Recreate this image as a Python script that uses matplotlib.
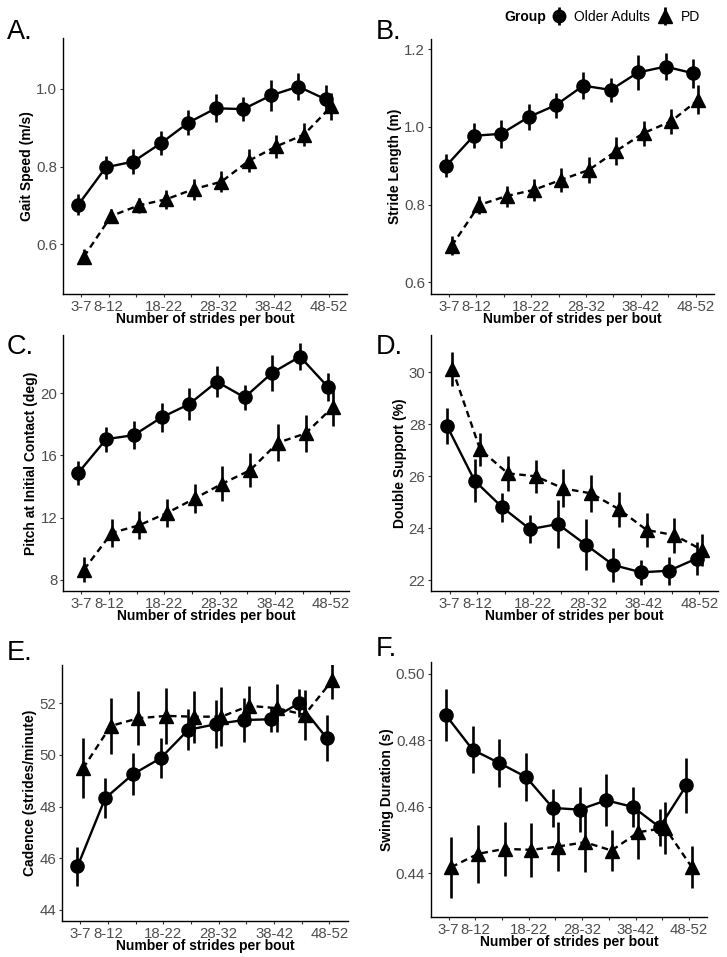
import numpy as np
import matplotlib
matplotlib.use("Agg")
import matplotlib.pyplot as plt
from matplotlib.lines import Line2D
from matplotlib.legend_handler import HandlerTuple

plt.rcParams['font.family'] = ['Liberation Sans', 'DejaVu Sans']

# bout length categories
bouts = ["3-7", "8-12", "13-17", "18-22", "23-27", "28-32", "33-37", "38-42", "43-47", "48-52"]
shown = ["3-7", "8-12", "18-22", "28-32", "38-42", "48-52"]

# A. gait speed
speed_oa = [0.702, 0.798, 0.813, 0.860, 0.913, 0.950, 0.948, 0.983, 1.006, 0.973]
speed_oa_err = [0.027, 0.030, 0.032, 0.031, 0.032, 0.036, 0.030, 0.040, 0.034, 0.036]
speed_pd = [0.568, 0.673, 0.700, 0.716, 0.742, 0.761, 0.815, 0.852, 0.882, 0.955]
speed_pd_err = [0.020, 0.017, 0.020, 0.025, 0.027, 0.027, 0.029, 0.029, 0.029, 0.034]

# B. stride length
stride_oa = [0.900, 0.977, 0.982, 1.025, 1.056, 1.106, 1.095, 1.140, 1.155, 1.138]
stride_oa_err = [0.029, 0.032, 0.036, 0.033, 0.032, 0.034, 0.030, 0.044, 0.035, 0.037]
stride_pd = [0.694, 0.799, 0.822, 0.838, 0.864, 0.889, 0.938, 0.984, 1.014, 1.070]
stride_pd_err = [0.024, 0.024, 0.027, 0.029, 0.031, 0.033, 0.036, 0.032, 0.033, 0.038]

# C. pitch at initial contact
pitch_oa = [14.90, 17.05, 17.31, 18.45, 19.31, 20.75, 19.74, 21.33, 22.37, 20.43]
pitch_oa_err = [0.77, 0.80, 0.88, 0.96, 1.03, 0.99, 0.81, 1.17, 0.88, 0.91]
pitch_pd = [8.65, 11.01, 11.51, 12.30, 13.23, 14.19, 15.05, 16.82, 17.42, 19.14]
pitch_pd_err = [0.80, 0.90, 0.90, 0.90, 0.95, 1.10, 1.10, 1.18, 1.18, 1.27]

# D. double support
ds_oa = [27.95, 25.83, 24.80, 23.96, 24.16, 23.37, 22.58, 22.30, 22.36, 22.83]
ds_oa_err = [0.69, 0.82, 0.56, 0.55, 0.91, 0.98, 0.65, 0.48, 0.53, 0.62]
ds_pd = [30.13, 27.03, 26.11, 26.00, 25.53, 25.34, 24.73, 23.93, 23.73, 23.16]
ds_pd_err = [0.67, 0.63, 0.66, 0.63, 0.73, 0.70, 0.67, 0.67, 0.67, 0.63]

# E. cadence
cad_oa = [45.68, 48.32, 49.25, 49.87, 50.97, 51.19, 51.35, 51.38, 52.00, 50.65]
cad_oa_err = [0.76, 0.77, 0.82, 0.77, 0.79, 0.94, 0.84, 0.49, 0.54, 0.89]
cad_pd = [49.48, 51.12, 51.42, 51.51, 51.48, 51.48, 51.90, 51.81, 51.55, 52.88]
cad_pd_err = [1.16, 1.10, 1.05, 1.08, 1.01, 1.14, 0.75, 0.92, 0.98, 0.70]

# F. swing duration
swing_oa = [0.4875, 0.4771, 0.4731, 0.4689, 0.4596, 0.4591, 0.4619, 0.4599, 0.4538, 0.4664]
swing_oa_err = [0.0078, 0.0070, 0.0071, 0.0073, 0.0058, 0.0068, 0.0078, 0.0060, 0.0056, 0.0082]
swing_pd = [0.4418, 0.4458, 0.4473, 0.4470, 0.4480, 0.4493, 0.4468, 0.4523, 0.4536, 0.4418]
swing_pd_err = [0.0092, 0.0087, 0.0082, 0.0081, 0.0075, 0.0089, 0.0063, 0.0082, 0.0078, 0.0064]

W, H = 727, 957
fig = plt.figure(figsize=(W / 100, H / 100), dpi=100)

def px_axes(left, right, top, bottom):
    return fig.add_axes([left / W, 1 - bottom / H, (right - left) / W, (bottom - top) / H])

# tag, tag position (px), axes box (px), data, y label, y range, y ticks
panels = [
    ("A.", (7, 32), (62.7, 347, 38, 294), speed_oa, speed_oa_err, speed_pd, speed_pd_err,
     "Gait Speed (m/s)", (0.472, 1.131), [0.6, 0.8, 1.0], "{:.1f}"),
    ("B.", (376, 32), (430.7, 714, 39, 294), stride_oa, stride_oa_err, stride_pd, stride_pd_err,
     "Stride Length (m)", (0.570, 1.226), [0.6, 0.8, 1.0, 1.2], "{:.1f}"),
    ("C.", (7, 347), (62.7, 349, 335, 591), pitch_oa, pitch_oa_err, pitch_pd, pitch_pd_err,
     "Pitch at Initial Contact (deg)", (7.27, 23.76), [8, 12, 16, 20], "{:.0f}"),
    ("D.", (376, 347), (431, 718, 335, 591), ds_oa, ds_oa_err, ds_pd, ds_pd_err,
     "Double Support (%)", (21.58, 31.44), [22, 24, 26, 28, 30], "{:.0f}"),
    ("E.", (7, 653), (61.7, 348, 665, 921), cad_oa, cad_oa_err, cad_pd, cad_pd_err,
     "Cadence (strides/minute)", (43.57, 53.48), [44, 46, 48, 50, 52], "{:.0f}"),
    ("F.", (376, 649), (430.7, 707, 662, 917), swing_oa, swing_oa_err, swing_pd, swing_pd_err,
     "Swing Duration (s)", (0.4268, 0.5035), [0.44, 0.46, 0.48, 0.50], "{:.2f}"),
]

x = np.arange(1, len(bouts) + 1)
dodge = 0.1

for tag, tpos, box, oa, oa_err, pd_, pd_err, ylab, ylim, yticks, fmt in panels:
    ax = px_axes(*box)
    ax.errorbar(x - dodge, oa, yerr=oa_err, fmt="none", ecolor="black", elinewidth=1.9, capsize=0)
    ax.errorbar(x + dodge, pd_, yerr=pd_err, fmt="none", ecolor="black", elinewidth=1.9, capsize=0)
    ax.plot(x - dodge, oa, color="black", lw=1.7, marker="o", ms=9.5)
    ax.plot(x + dodge, pd_, color="black", lw=1.7, ls=(0, (2.8, 1.9)), marker="^", ms=9.8)

    ax.set_xlim(0.33, 10.67)
    ax.set_ylim(*ylim)
    ax.set_xticks(x)
    ax.set_xticklabels([b if b in shown else "" for b in bouts])
    ax.set_yticks(yticks)
    ax.set_yticklabels([fmt.format(v) for v in yticks])
    ax.tick_params(axis="both", colors="#333333", labelcolor="#4D4D4D", labelsize=10.8,
                   length=2.5, width=0.8, pad=1.5)
    for s in ("top", "right"):
        ax.spines[s].set_visible(False)
    for s in ("left", "bottom"):
        ax.spines[s].set_linewidth(1.0)
    ax.set_xlabel("Number of strides per bout", fontsize=10, fontweight="bold", labelpad=-1)
    ax.set_ylabel(ylab, fontsize=10, fontweight="bold", labelpad=1.5)
    fig.text(tpos[0] / W, 1 - tpos[1] / H, tag, fontsize=19.5, va="center", ha="left")

# legend along the top right
h_oa = (Line2D([], [], color="black", marker="o", ms=9, ls="none"),
        Line2D([], [], color="black", marker="|", ms=13, mew=2.0, ls="none"))
h_pd = (Line2D([], [], color="black", marker="^", ms=9.5, ls="none"),
        Line2D([], [], color="black", marker="|", ms=13, mew=2.0, ls="none"))
fig.text(504 / W, 1 - 17 / H, "Group", fontsize=10, fontweight="bold", va="center", ha="left")
fig.legend([h_oa, h_pd], ["Older Adults", "PD"], ncol=2, frameon=False,
           loc="center left", bbox_to_anchor=(552 / W, 1 - 17 / H),
           handler_map={tuple: HandlerTuple(ndivide=1, pad=0)},
           handlelength=1.0, handletextpad=0.6, columnspacing=0.6,
           fontsize=10, borderaxespad=0, borderpad=0)

fig.savefig("out.png", dpi=100)
